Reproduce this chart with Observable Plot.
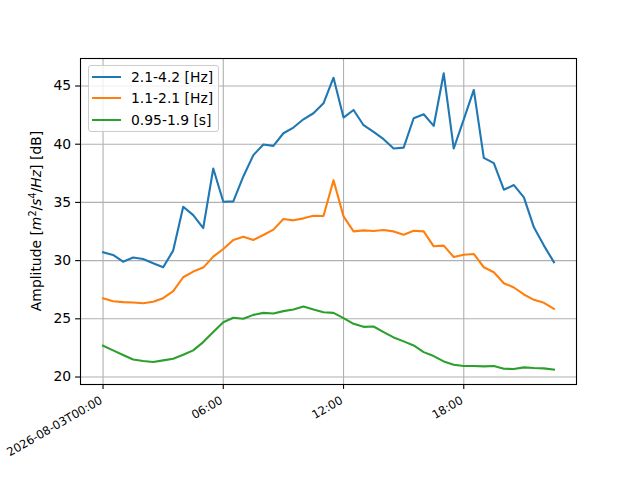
<!DOCTYPE html>
<html><head><meta charset="utf-8">
<script src="https://cdn.jsdelivr.net/npm/d3@7"></script>
<script src="https://cdn.jsdelivr.net/npm/@observablehq/plot@0.6"></script>
<style>
body{margin:0;background:#fff;font-family:"DejaVu Sans",sans-serif;}
#wrap{position:relative;width:640px;height:480px;}
#legend{position:absolute;left:88px;top:65px;width:131px;height:67px;border:1px solid #cccccc;border-radius:3px;background:rgba(255,255,255,0.8);box-sizing:border-box;font-size:13.9px;color:#000;}
.item{position:absolute;left:0;height:20px;}
.item .sw{position:absolute;left:3px;width:29px;height:2px;top:9px;}
.item .lb{position:absolute;left:42px;top:0;line-height:20px;white-space:nowrap;}
</style>
</head><body>
<div id="wrap"></div>
<script>
const times = ["00:00","00:30","01:00","01:30","02:00","02:30","03:00","03:30","04:00","04:30",
"05:00","05:30","06:00","06:30","07:00","07:30","08:00","08:30","09:00","09:30",
"10:00","10:30","11:00","11:30","12:00","12:30","13:00","13:30","14:00","14:30",
"15:00","15:30","16:00","16:30","17:00","17:30","18:00","18:30","19:00","19:30",
"20:00","20:30","21:00","21:30","22:00","22:30"];
const band1 = [30.71,30.49,29.91,30.26,30.14,29.77,29.43,30.86,34.63,33.91,
32.80,37.91,35.06,35.09,37.23,39.06,39.97,39.86,40.94,41.43,
42.14,42.66,43.51,45.71,42.29,42.94,41.63,41.06,40.43,39.63,
39.71,42.23,42.57,41.57,46.09,39.63,42.14,44.66,38.83,38.37,
36.09,36.49,35.43,32.86,31.29,29.86];
const band2 = [26.77,26.51,26.43,26.40,26.34,26.46,26.77,27.37,28.57,29.06,
29.40,30.34,31.00,31.77,32.06,31.77,32.20,32.66,33.57,33.46,
33.63,33.86,33.83,36.91,33.80,32.51,32.60,32.54,32.63,32.51,
32.23,32.57,32.51,31.23,31.29,30.31,30.51,30.57,29.43,29.00,
28.06,27.69,27.09,26.63,26.37,25.86];
const band3 = [22.69,22.29,21.89,21.51,21.37,21.29,21.43,21.57,21.91,22.29,
23.00,23.86,24.71,25.09,25.00,25.34,25.51,25.46,25.66,25.80,
26.06,25.80,25.57,25.51,25.06,24.57,24.31,24.34,23.86,23.40,
23.06,22.71,22.14,21.80,21.34,21.06,20.94,20.94,20.91,20.94,
20.71,20.69,20.83,20.77,20.74,20.63];
const seriesNames = ["2.1-4.2 [Hz]","1.1-2.1 [Hz]","0.95-1.9 [s]"];
const seriesColors = ["#1f77b4","#ff7f0e","#2ca02c"];
const xTickTimes = ["00:00","06:00","12:00","18:00"];
const xTickLabels = ["2026-08-03T00:00","06:00","12:00","18:00"];
const yTicks = [20,25,30,35,40,45];
const day = "2026-08-03";

const parse = s => new Date(`${day}T${s}:00Z`);
const dates = times.map(parse);
const allSeries = [band1, band2, band3];
const rows = [];
allSeries.forEach((vals, k) => vals.forEach((v, i) => rows.push({t: dates[i], v, s: seriesNames[k]})));

const [x0, x1] = d3.extent(dates);
const xp = (x1 - x0) * 0.05;
const allVals = allSeries.flat();
const [y0, y1] = d3.extent(allVals);
const yp = (y1 - y0) * 0.05;
const xTicks = xTickTimes.map(parse);
const xTickData = xTicks.map((t, i) => ({t, label: xTickLabels[i]}));

const chart = Plot.plot({
  width: 640, height: 480,
  marginLeft: 80, marginRight: 64, marginTop: 58, marginBottom: 96,
  style: {fontFamily: "DejaVu Sans", background: "white", color: "black"},
  x: {type: "utc", domain: [new Date(+x0 - xp), new Date(+x1 + xp)]},
  y: {domain: [y0 - yp, y1 + yp]},
  color: {domain: seriesNames, range: seriesColors},
  marks: [
    Plot.gridX(xTicks, {stroke: "#b0b0b0", strokeOpacity: 1, strokeWidth: 1.1}),
    Plot.gridY(yTicks, {stroke: "#b0b0b0", strokeOpacity: 1, strokeWidth: 1.1}),
    Plot.line(rows, {x: "t", y: "v", z: "s", stroke: "s", strokeWidth: 2.1, strokeLinejoin: "round", strokeLinecap: "square"}),
    Plot.axisX({ticks: xTicks, tickSize: 4.9, tickFormat: () => "", label: null, strokeWidth: 1.1}),
    Plot.text(xTickData, {x: "t", text: "label", frameAnchor: "bottom", rotate: -30, textAnchor: "end", lineAnchor: "top", dy: 11, dx: -4, fontSize: 11.6, fill: "black"}),
    Plot.axisY({ticks: yTicks, tickSize: 4.9, tickPadding: 4.5, fontSize: 13.9, label: null, strokeWidth: 1.1}),
    Plot.frame({stroke: "black", strokeWidth: 1.1})
  ]
});
document.getElementById("wrap").appendChild(chart);

// y axis label with math-style italics and superscripts
const svg = d3.select(chart);
const yl = svg.append("text")
  .attr("transform", "translate(41,221) rotate(-90)")
  .attr("text-anchor", "middle")
  .attr("font-family", "DejaVu Sans")
  .attr("font-size", 13.9)
  .attr("fill", "black");
yl.append("tspan").text("Amplitude [");
yl.append("tspan").attr("font-style", "italic").text("m");
yl.append("tspan").attr("font-size", 9.7).attr("dy", -5).text("2");
yl.append("tspan").attr("dy", 5).text("/");
yl.append("tspan").attr("font-style", "italic").text("s");
yl.append("tspan").attr("font-size", 9.7).attr("dy", -5).text("4");
yl.append("tspan").attr("dy", 5).text("/");
yl.append("tspan").attr("font-style", "italic").text("Hz");
yl.append("tspan").text("] [dB]");

// legend
const lg = document.createElement("div");
lg.id = "legend";
seriesNames.forEach((name, i) => {
  const it = document.createElement("div");
  it.className = "item";
  it.style.top = (1 + i * 21.3) + "px";
  it.innerHTML = `<div class="sw" style="background:${seriesColors[i]}"></div><div class="lb">${name}</div>`;
  lg.appendChild(it);
});
document.getElementById("wrap").appendChild(lg);
</script>
</body></html>
